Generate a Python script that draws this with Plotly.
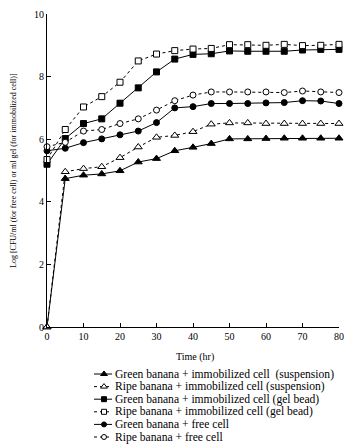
import plotly.graph_objects as go

W, H = 350, 446
FONT = "Liberation Serif"

time_hr = [0, 5, 10, 15, 20, 25, 30, 35, 40, 45, 50, 55, 60, 65, 70, 75, 80]
green_susp = [0, 4.74, 4.85, 4.89, 4.99, 5.27, 5.38, 5.63, 5.74, 5.86, 6.01, 6.01, 6.02, 6.03, 6.03, 6.03, 6.03]
ripe_susp = [0, 4.96, 5.06, 5.12, 5.41, 5.75, 6.06, 6.12, 6.24, 6.48, 6.52, 6.52, 6.50, 6.50, 6.50, 6.50, 6.50]
green_gel = [5.20, 6.02, 6.50, 6.65, 7.15, 7.64, 8.15, 8.56, 8.71, 8.73, 8.82, 8.81, 8.81, 8.81, 8.85, 8.87, 8.87]
ripe_gel = [5.35, 6.31, 7.03, 7.36, 7.82, 8.50, 8.72, 8.83, 8.88, 8.90, 9.02, 9.02, 9.00, 9.03, 8.99, 9.00, 9.03]
green_free = [5.63, 5.71, 5.89, 6.01, 6.14, 6.26, 6.53, 7.00, 7.04, 7.14, 7.14, 7.14, 7.16, 7.17, 7.23, 7.22, 7.14]
ripe_free = [5.76, 5.90, 6.26, 6.31, 6.50, 6.65, 6.93, 7.23, 7.41, 7.51, 7.51, 7.51, 7.51, 7.49, 7.54, 7.51, 7.49]

x_ticks = [0, 10, 20, 30, 40, 50, 60, 70, 80]
y_ticks = [0, 2, 4, 6, 8, 10]

series = [
    ("Green banana + immobilized cell\u00a0 (suspension)", green_susp, "triangle-up", True, "solid", 7),
    ("Ripe banana + immobilized cell (suspension)", ripe_susp, "triangle-up", False, "dot", 7),
    ("Green banana + immobilized cell (gel bead)", green_gel, "square", True, "solid", 6),
    ("Ripe banana + immobilized cell (gel bead)", ripe_gel, "square", False, "dot", 6),
    ("Green banana + free cell", green_free, "circle", True, "solid", 6),
    ("Ripe banana + free cell", ripe_free, "circle", False, "dot", 6),
]

fig = go.Figure()
for name, vals, sym, filled, dash, size in series:
    fig.add_trace(go.Scatter(
        x=time_hr, y=vals, mode="lines+markers", name=name, showlegend=False,
        line=dict(color="black", width=1, dash=dash),
        marker=dict(symbol=sym, size=size, color="black" if filled else "white",
                    line=dict(color="black", width=1)),
        cliponaxis=False,
    ))

# manual legend (compact rows) in a pixel-space overlay axis
row0, dy = 374, 12.6
annotations = []
for i, (name, vals, sym, filled, dash, size) in enumerate(series):
    yy = row0 + dy * i
    fig.add_trace(go.Scatter(
        x=[94, 112], y=[yy, yy], mode="lines", xaxis="x2", yaxis="y2", showlegend=False,
        line=dict(color="black", width=1, dash=dash), hoverinfo="skip"))
    fig.add_trace(go.Scatter(
        x=[104], y=[yy], mode="markers", xaxis="x2", yaxis="y2", showlegend=False,
        marker=dict(symbol=sym, size=size - 1, color="black" if filled else "white",
                    line=dict(color="black", width=1)), hoverinfo="skip"))
    annotations.append(dict(x=113, y=yy, xref="x2", yref="y2", text=name, showarrow=False,
                            xanchor="left", yanchor="middle",
                            font=dict(family=FONT, size=11.6, color="black")))

annotations.append(dict(x=195 / W, y=1 - 357 / H, xref="paper", yref="paper", text="Time (hr)",
                        showarrow=False, xanchor="center", yanchor="middle",
                        font=dict(family=FONT, size=10, color="black")))
annotations.append(dict(x=13 / W, y=1 - 171 / H, xref="paper", yref="paper",
                        text="Log [CFU/ml (for free cell) or ml gel (for immobilized cell)]",
                        showarrow=False, textangle=-90, xanchor="center", yanchor="middle",
                        font=dict(family=FONT, size=8, color="black")))

fig.update_layout(
    width=W, height=H, margin=dict(l=0, r=0, t=0, b=0),
    paper_bgcolor="white", plot_bgcolor="rgba(0,0,0,0)",
    font=dict(family=FONT, size=10, color="black"),
    xaxis=dict(domain=[47 / W, 339 / W], range=[0, 80], tickvals=x_ticks,
               showline=True, linecolor="black", linewidth=1, ticks="inside", ticklen=4,
               tickcolor="black", showgrid=False, zeroline=False, automargin=False,
               tickfont=dict(family=FONT, size=10, color="black")),
    yaxis=dict(domain=[1 - 327 / H, 1 - 14 / H], range=[0, 10], tickvals=y_ticks,
               showline=True, linecolor="black", linewidth=1, ticks="inside", ticklen=4,
               tickcolor="black", showgrid=False, zeroline=False, automargin=False,
               tickfont=dict(family=FONT, size=10, color="black")),
    xaxis2=dict(domain=[0, 1], range=[0, W], visible=False, anchor="y2", fixedrange=True),
    yaxis2=dict(domain=[0, 1], range=[H, 0], visible=False, anchor="x2", fixedrange=True),
    annotations=annotations,
)

fig.write_html("out.html")
